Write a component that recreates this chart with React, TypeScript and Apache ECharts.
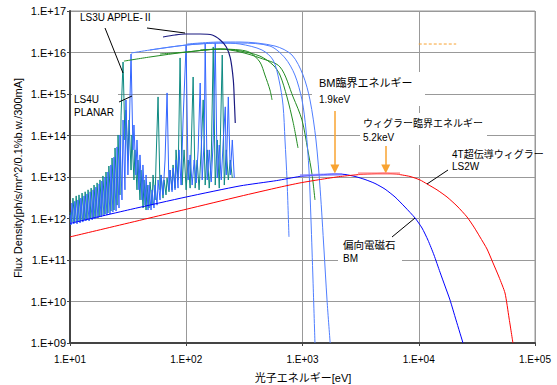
import React, { useEffect, useRef } from 'react';
import * as echarts from 'echarts';

type P = [number, number];

const xTickLabels = ['1.E+01', '1.E+02', '1.E+03', '1.E+04', '1.E+05'];
const yTickLabels = ['1.E+09', '1.E+10', '1.E+11', '1.E+12', '1.E+13', '1.E+14', '1.E+15', '1.E+16', '1.E+17'];

// Bending magnet (BM), Ec = 1.9 keV
const bmCurve: P[] = [
  [10, 7.6e11], [33, 1.65e12], [100, 3.3e12], [290, 6.1e12], [600, 8.2e12], [950, 1.03e13],
  [1420, 1.13e13], [1900, 1.18e13], [2320, 1.15e13], [2830, 1.03e13], [3450, 8.7e12], [4200, 7.0e12],
  [5130, 5.1e12], [6250, 3.3e12], [7610, 1.89e12], [9290, 1.03e12], [10670, 5.9e11], [12010, 3.0e11],
  [13520, 1.32e11], [15230, 5.1e10], [16820, 2.36e10], [18570, 1.09e10], [20910, 3.6e9], [24020, 1e9],
];

// 4T superconducting wiggler LS2W, Ec = 5.2 keV
const wigglerCurve: P[] = [
  [10, 3.6e11], [100, 1.67e12], [290, 3.42e12], [640, 5.7e12], [950, 7.2e12], [1420, 8.7e12],
  [2120, 1.03e13], [3130, 1.15e13], [4200, 1.21e13], [5130, 1.23e13], [6250, 1.19e13], [8410, 1.03e13],
  [10250, 8.5e12], [11780, 6.8e12], [14360, 4.9e12], [17500, 3.3e12], [21330, 2.0e12], [26000, 1.09e12],
  [29880, 6.2e11], [33600, 3.6e11], [38650, 1.84e11], [43530, 8.5e10], [49000, 3.9e10], [55200, 1.6e10],
  [59800, 4.0e9], [64600, 1e9],
];

// LS4U PLANAR spectra
const ls4uSpectrumTeal: P[] = [
  [10, 1.43e12], [10.4, 8.2e11], [10.6, 3.1e12], [11.0, 8.2e11], [11.3, 3.5e12], [11.7, 8.7e11],
  [11.95, 3.7e12], [12.4, 8.7e11], [12.7, 4.1e12], [13.2, 9.2e11], [13.5, 4.4e12], [14.0, 9.7e11],
  [14.3, 4.9e12], [14.9, 9.7e11], [15.2, 5.4e12], [15.8, 1.03e12], [16.1, 6.4e12], [16.7, 1.09e12],
  [17.1, 7.2e12], [17.8, 1.15e12], [18.1, 8.5e12], [18.8, 1.21e12], [19.2, 1.06e13], [20.0, 1.28e12],
  [20.4, 1.32e13], [21.2, 1.36e12], [21.6, 1.84e13], [22.5, 1.51e12], [23.0, 2.87e13], [23.9, 1.6e12],
  [24.4, 5.0e13], [25.4, 2.1e12], [25.9, 1.03e14], [26.9, 3.7e12], [27.5, 3.1e14], [28.6, 5.9e15],
  [29.7, 7.8e13], [30.3, 4.1e14], [31.5, 2.57e13], [32.2, 2.36e14], [33.5, 1.47e13], [34.1, 1.03e14],
  [35.5, 8.5e12], [36.2, 4.5e13], [37.7, 4.9e12], [38.4, 2.57e13], [40.0, 2.8e12], [40.8, 1.47e13],
  [42.5, 1.79e12], [43.3, 8.5e12], [45.1, 1.6e12], [46.0, 6.4e12], [47.8, 1.79e12], [48.8, 7.6e12],
  [50.8, 2.1e12], [51.8, 1.12e13], [53.9, 2.8e12], [55.0, 2.57e13], [57.2, 8.5e14], [59.5, 4.9e12],
  [60.7, 1.12e13], [63.1, 3.1e12], [64.4, 8.5e12], [67.0, 3.7e12], [68.4, 9.5e12], [71.1, 4.4e12],
  [72.5, 1.47e13], [75.5, 4.9e12], [77.0, 1.95e13], [80.1, 5.4e12], [81.7, 4.5e13], [85.0, 8.5e12],
  [88.5, 7.4e15], [92.1, 6.4e12], [95.8, 4.5e13], [99.7, 4.9e12], [103.8, 2.57e13], [108, 5.4e12],
  [114.6, 2.57e15], [119.3, 5.4e12], [124, 2.57e13], [129, 4.9e12], [134.4, 4.5e13], [139.9, 7.2e14],
  [145.5, 6.4e12], [151.5, 4.5e13], [157.6, 5.4e12], [164, 2.57e13], [170.7, 1.36e16], [177.6, 6.4e12],
  [184.8, 7.8e13], [192.3, 5.4e12], [204, 8.7e15], [212.4, 6.4e12], [221, 4.5e13], [230, 8.5e12],
  [239.4, 2.57e13], [249, 9.5e12],
];

const ls4uSpectrumBlue: P[] = [
  [10, 1.21e12], [10.2, 7.0e11], [10.4, 2.36e12], [10.8, 7.4e11], [11.0, 2.6e12], [11.5, 7.4e11],
  [11.7, 2.8e12], [12.2, 7.8e11], [12.4, 3.1e12], [12.9, 8.2e11], [13.2, 3.5e12], [13.7, 8.7e11],
  [14.0, 3.9e12], [14.6, 8.7e11], [14.9, 4.4e12], [15.5, 9.2e11], [15.8, 4.9e12], [16.4, 9.7e11],
  [16.7, 5.7e12], [17.4, 1.03e12], [17.8, 6.8e12], [18.5, 1.09e12], [18.8, 8.0e12], [19.6, 1.15e12],
  [20.0, 1.0e13], [20.8, 1.21e12], [21.2, 1.32e13], [22.1, 1.28e12], [22.5, 1.95e13], [23.4, 1.43e12],
  [23.9, 3.0e13], [24.9, 1.51e12], [25.4, 5.3e13], [26.4, 1.79e12], [26.9, 1.03e14], [28.0, 2.8e12],
  [28.6, 2.36e14], [29.7, 4.9e12], [30.3, 7.2e14], [31.5, 1.12e13], [32.2, 7.8e13], [33.5, 9.2e15],
  [34.8, 4.5e13], [35.5, 1.79e14], [36.9, 1.12e13], [37.7, 7.8e13], [39.2, 4.9e12], [40.0, 3.4e13],
  [41.6, 2.8e12], [42.4, 1.95e13], [44.2, 2.1e12], [45.1, 1.12e13], [46.9, 1.6e12], [47.8, 6.4e12],
  [49.8, 1.6e12], [50.8, 4.9e12], [52.8, 1.79e12], [53.9, 6.4e12], [56.1, 2.1e12], [57.2, 8.5e12],
  [59.5, 2.8e12], [60.7, 1.12e13], [63.1, 3.7e12], [65.7, 2.57e13], [68.4, 1.06e15], [71.1, 4.9e12],
  [72.5, 1.47e13], [75.5, 4.4e12], [77.0, 1.65e13], [80.1, 4.9e12], [81.7, 2.57e13], [85.0, 5.4e12],
  [86.7, 4.5e13], [90.3, 6.4e12], [93.9, 2.36e14], [99.7, 1.52e16], [103.8, 8.5e12], [108, 3.4e13],
  [112.4, 6.4e12], [117, 2.57e13], [121.7, 7.2e12], [126.6, 4.5e13], [131.8, 1.84e15], [137.1, 8.5e12],
  [142.7, 7.8e13], [145.5, 1.69e16], [151.5, 8.5e12], [157.6, 4.5e13], [164, 7.6e12], [170.7, 7.8e13],
  [177.6, 1.69e16], [184.8, 9.5e12], [192.3, 5.9e13], [200, 8.5e12], [208.3, 7.8e13], [216.7, 4.9e14],
  [221, 1.12e13], [230, 8.5e14], [239.4, 1.12e13], [249, 7.8e13], [259, 9.5e12],
];

// LS4U tuning curves (harmonic envelopes)
const tuningGreen1: P[] = [
  [29.1, 6.2e15], [48.8, 7.8e15], [101.8, 1.03e16], [196, 1.21e16], [290, 1.15e16], [353, 1.0e16],
  [430, 5.9e15], [475, 2.87e15], [525, 1.25e15], [547, 7.2e14],
];
const tuningGreen2: P[] = [
  [59.5, 9.2e15], [101.8, 1.03e16], [196, 1.21e16], [290, 1.09e16], [430, 8.2e15], [558, 5.0e15],
  [640, 2.87e15], [735, 8.5e14], [830, 2.1e14], [915, 5.0e13],
];
const tuningGreen3: P[] = [
  [131.8, 1.15e16], [196, 1.21e16], [290, 1.03e16], [430, 7.4e15], [640, 4.5e15], [830, 8.5e14],
  [990, 2.36e14], [1110, 4.5e13], [1210, 1.12e13], [1280, 2.8e12],
];
const tuningBlue1: P[] = [
  [33.5, 9.7e15], [48.8, 1.15e16], [101.8, 1.52e16], [196, 1.69e16], [290, 1.6e16], [448, 1.15e16],
  [558, 6.6e15], [628, 2.17e15], [680, 5.4e14], [707, 7.8e13], [736, 8.5e12], [765, 3.6e11],
];
const tuningBlue2: P[] = [
  [48.8, 1.15e16], [101.8, 1.52e16], [196, 1.69e16], [290, 1.69e16], [525, 1.43e16], [707, 7.4e15],
  [860, 2.87e15], [990, 7.2e14], [1072, 1.36e14], [1137, 1.47e13], [1183, 9.2e11], [1231, 3.3e10],
  [1280, 1e9],
];
const tuningBlue3: P[] = [
  [101.8, 1.6e16], [196, 1.79e16], [290, 1.79e16], [580, 1.43e16], [812, 8.7e15], [1010, 2.87e15],
  [1160, 7.2e14], [1306, 7.8e13], [1420, 4.9e12], [1531, 1.74e11], [1625, 1.09e10], [1730, 1e9],
];

// LS3U APPLE-II
const ls3uApple: P[] = [
  [63.1, 2.36e16], [80.1, 2.64e16], [97.8, 2.79e16], [131.8, 2.79e16], [167.3, 2.64e16], [196, 2.0e16],
  [221, 1.36e16], [239.4, 7.4e15], [254, 2.17e15], [259, 7.2e14], [264, 2.0e14],
];

// short orange dashed fragment (top right)
const orangeDash: P[] = [[10000, 1.6e16], [21000, 1.6e16]];

// critical energies, arrow extents and peak highlights
const bmCriticalE = 1900;
const wigglerCriticalE = 5200;
const bmArrowTop = 3.9e14;
const wigglerArrowTop = 5.6e13;
const arrowTip = 1.56e13;
const bmHighlight: P[] = [[950, 1.08e13], [2200, 1.16e13]];
const wigglerHighlight: P[] = [[3000, 1.2e13], [6900, 1.2e13]];

const FONT = '"Liberation Sans", "Noto Sans CJK JP", sans-serif';
const ORANGE = '#F8A331';

const txt = (text: string, x: number, y: number, size: number, extra: any = {}, el: any = {}) => ({
  type: 'text',
  x,
  y,
  z: 30,
  ...el,
  style: {
    text,
    fill: '#000',
    fontSize: size,
    fontFamily: FONT,
    textAlign: 'left',
    align: 'left',
    textVerticalAlign: 'middle',
    verticalAlign: 'middle',
    ...extra,
  },
});
const box = (x: number, y: number, w: number, h: number) => ({
  type: 'rect',
  z: 25,
  shape: { x, y, width: w, height: h },
  style: { fill: '#fff' },
});
const lead = (x1: number, y1: number, x2: number, y2: number) => ({
  type: 'line',
  z: 31,
  shape: { x1, y1, x2, y2 },
  style: { stroke: '#000', lineWidth: 1 },
});

const lineSeries = (name: string, data: P[], color: string, width = 1, smooth: number | boolean = false, extra: any = {}) => ({
  name,
  type: 'line',
  data,
  symbol: 'none',
  smooth,
  lineStyle: { color, width },
  emphasis: { disabled: true },
  z: 3,
  ...extra,
});

const segment = (pts: P[], color: string) => [
  { coord: pts[0], symbol: 'none', lineStyle: { color, width: 2.5, type: 'solid', opacity: 0.75 } },
  { coord: pts[1], symbol: 'none' },
];

export default function App() {
  const ref = useRef<HTMLDivElement>(null);
  useEffect(() => {
    if (!ref.current) return;
    const chart = echarts.init(ref.current, undefined, { renderer: 'svg' });
    const option: any = {
      animation: false,
      backgroundColor: '#fff',
      grid: {
        left: 70,
        top: 11,
        width: 465,
        height: 332,
        show: true,
        borderColor: '#999',
        borderWidth: 1,
        backgroundColor: 'transparent',
      },
      xAxis: {
        type: 'log',
        logBase: 10,
        min: 10,
        max: 100000,
        splitNumber: 4,
        axisLine: { show: true, lineStyle: { color: '#444', width: 2 } },
        axisTick: { show: true, length: 3, lineStyle: { color: '#444', width: 1 } },
        minorTick: { show: false },
        splitLine: { show: true, lineStyle: { color: '#999', width: 1 } },
        axisLabel: {
          margin: 11,
          fontSize: 10,
          fontFamily: '"Liberation Sans", Arial, sans-serif',
          color: '#000',
          formatter: (v: number) => xTickLabels[Math.round(Math.log10(v)) - 1] ?? '',
        },
      },
      yAxis: {
        type: 'log',
        logBase: 10,
        min: 1e9,
        max: 1e17,
        splitNumber: 8,
        axisLine: { show: true, lineStyle: { color: '#444', width: 2 } },
        axisTick: { show: true, length: 3, lineStyle: { color: '#444', width: 1 } },
        minorTick: { show: false },
        splitLine: { show: true, lineStyle: { color: '#999', width: 1 } },
        axisLabel: {
          margin: 4,
          fontSize: 11,
          fontFamily: '"Liberation Sans", Arial, sans-serif',
          color: '#000',
          formatter: (v: number) => yTickLabels[Math.round(Math.log10(v)) - 9] ?? '',
        },
      },
      series: [
        lineSeries('LS4U spectrum (teal)', ls4uSpectrumTeal, '#0E8A82', 1),
        lineSeries('LS4U spectrum (blue)', ls4uSpectrumBlue, '#3366FF', 1),
        lineSeries('tuning green 1', tuningGreen1, '#228B22', 1, 0.3),
        lineSeries('tuning green 2', tuningGreen2, '#228B22', 1, 0.3),
        lineSeries('tuning green 3', tuningGreen3, '#228B22', 1, 0.3),
        lineSeries('tuning blue 1', tuningBlue1, '#4F7EFF', 1, 0.3),
        lineSeries('tuning blue 2', tuningBlue2, '#4F7EFF', 1, 0.3),
        lineSeries('tuning blue 3', tuningBlue3, '#4F7EFF', 1, 0.3),
        lineSeries('LS3U APPLE-II', ls3uApple, '#1A1A80', 1.2, 0.3),
        lineSeries('BM', bmCurve, '#0000FF', 1, 0.2, {
          z: 4,
          markLine: {
            silent: true,
            symbol: ['none', 'triangle'],
            symbolSize: [9, 9],
            label: { show: false },
            emphasis: { disabled: true },
            lineStyle: { color: ORANGE, width: 1.5, type: 'solid' },
            data: [
              [{ coord: [bmCriticalE, bmArrowTop] }, { coord: [bmCriticalE, arrowTip] }],
              [{ coord: [wigglerCriticalE, wigglerArrowTop] }, { coord: [wigglerCriticalE, arrowTip] }],
            ],
          },
        }),
        lineSeries('LS2W', wigglerCurve, '#FF0000', 1, 0.2, {
          z: 4,
          markLine: {
            silent: true,
            symbol: 'none',
            label: { show: false },
            emphasis: { disabled: true },
            data: [segment(bmHighlight, '#8080FF'), segment(wigglerHighlight, '#FF8080')],
          },
        }),
        lineSeries('orange dash', orangeDash, ORANGE, 1, false, { lineStyle: { color: ORANGE, width: 1, type: [3, 2] } }),
      ],
      graphic: [
        box(72, 90, 46, 30),
        box(312, 72, 113, 34),
        box(360, 113, 127, 32),
        box(338, 236, 64, 30),
        txt('LS3U APPLE-Ⅱ', 80, 17, 10),
        lead(105, 28, 123, 73),
        lead(147, 28, 185, 33),
        txt('LS4U', 74, 99, 10),
        txt('PLANAR', 74, 112, 10),
        lead(119, 102, 132, 96),
        txt('BM臨界エネルギー', 319, 83, 11),
        txt('1.9keV', 319, 99, 10),
        txt('ウィグラー臨界エネルギー', 363, 123, 10),
        txt('5.2keV', 363, 137, 10),
        txt('4T超伝導ウィグラー', 452, 154, 10),
        txt('LS2W', 452, 166, 10),
        lead(427, 184, 448, 170),
        txt('偏向電磁石', 343, 245, 10.5),
        txt('BM', 343, 258, 10),
        lead(392, 237, 415, 218),
        txt('Flux Density[ph/s/mr^2/0.1%b.w./300mA]', 18, 178, 11,
          { textAlign: 'center', align: 'center' },
          { rotation: Math.PI / 2 }),
        txt('光子エネルギー[eV]', 303, 378, 11, { textAlign: 'center', align: 'center' }),
      ],
    };
    chart.setOption(option);
    return () => chart.dispose();
  }, []);
  return <div ref={ref} style={{ position: 'fixed', left: 0, top: 0, width: 557, height: 385 }} />;
}
